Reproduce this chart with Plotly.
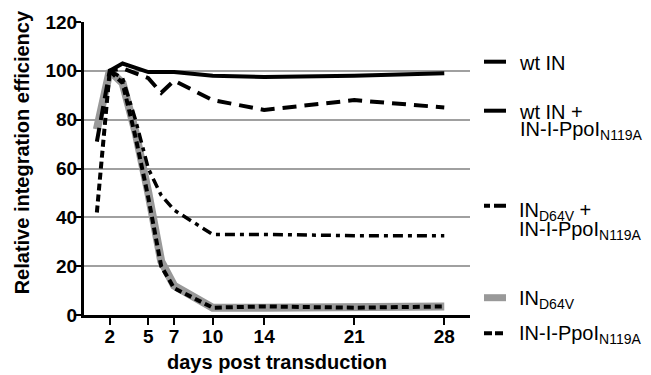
import plotly.graph_objects as go

days_wt = [2, 3, 5, 7, 10, 14, 21, 28]
wt_in = [100, 103, 99.5, 99.5, 98, 97.5, 98, 99]

days_wt_ppoi = [1, 2, 3, 5, 6, 7, 10, 14, 21, 28]
wt_in_ppoi = [71, 100, 101, 97, 91, 96, 88, 84, 88, 85]

days_d64v_ppoi = [2, 3, 4, 5, 6, 7, 10, 14, 21, 28]
d64v_ppoi = [100, 97, 80, 60, 49, 43, 33, 33, 32.5, 32.5]

days_d64v = [1, 2, 3, 4, 5, 6, 7, 10, 14, 21, 28]
d64v = [76, 100, 95, 75, 50, 22, 12, 3, 3, 3, 3.5]

days_ppoi = [1, 2, 3, 4, 5, 6, 7, 10, 14, 21, 28]
ppoi = [42, 100, 95, 73, 48, 20, 11, 3, 3.5, 3, 3.5]

x_ticks = [2, 5, 7, 10, 14, 21, 28]
y_ticks = [0, 20, 40, 60, 80, 100, 120]

FONT = "Liberation Sans, Arial, sans-serif"
W, H = 643, 367  # page body has an 8px margin
L, R, T, B = 76, 181, 14, 60
PW, PH = W - L - R, H - T - B

def px(page_x):
    return (page_x - 8 - L) / PW

def py(page_y):
    return (H - B - (page_y - 8)) / PH

styles = {
    "d64v": dict(color="#999999", width=8),
    "ppoi": dict(color="black", width=4, dash="7px,4px"),
    "d64v_ppoi": dict(color="black", width=3.5, dash="10px,5px,4px,5px"),
    "wt_ppoi": dict(color="black", width=4, dash="14px,8px"),
    "wt": dict(color="black", width=4),
}

fig = go.Figure()
fig.add_trace(go.Scatter(x=days_d64v, y=d64v, mode="lines", name="IN<sub>D64V</sub>",
                         line=styles["d64v"]))
fig.add_trace(go.Scatter(x=days_ppoi, y=ppoi, mode="lines", name="IN-I-PpoI<sub>N119A</sub>",
                         line=styles["ppoi"]))
fig.add_trace(go.Scatter(x=days_d64v_ppoi, y=d64v_ppoi, mode="lines",
                         name="IN<sub>D64V</sub> + IN-I-PpoI<sub>N119A</sub>",
                         line=styles["d64v_ppoi"]))
fig.add_trace(go.Scatter(x=days_wt_ppoi, y=wt_in_ppoi, mode="lines",
                         name="wt IN + IN-I-PpoI<sub>N119A</sub>",
                         line=styles["wt_ppoi"]))
fig.add_trace(go.Scatter(x=days_wt, y=wt_in, mode="lines", name="wt IN",
                         line=styles["wt"]))

LFS = 20
def big(t):
    return '<span style="font-size:%dpx">%s</span>' % (LFS, t)

# legend drawn as swatches + text (reference uses tight line spacing)
legend_items = [
    # (swatch y, swatch style, lines, cap-top y of first line, line pitch)
    (61.7, dict(color="black", width=4), ["wt IN"], 55, None),
    (110.7, dict(color="black", width=4, dash="24px,6px"),
     ["wt IN +", "IN-I-PpoI<sub>N119A</sub>"], 104, 17.2),
    (205.7, dict(color="black", width=4, dash="6px,4px,12px,4px"),
     ["IN<sub>D64V</sub> +", "IN-I-PpoI<sub>N119A</sub>"], 202, 18.6),
    (297.7, dict(color="#999999", width=7), ["IN<sub>D64V</sub>"], 290, None),
    (333.3, dict(color="black", width=4, dash="8px,3px"), ["IN-I-PpoI<sub>N119A</sub>"], 325, None),
]

shapes = []
annotations = []
for sy, sstyle, lines, cap_top, pitch in legend_items:
    shapes.append(dict(type="line", xref="paper", yref="paper",
                       x0=px(484), x1=px(506), y0=py(sy), y1=py(sy), line=sstyle))
    if len(lines) == 1:
        text, size = lines[0], LFS
    else:
        text, size = "<br>".join(big(t) for t in lines), pitch / 1.3
    annotations.append(dict(text=text, xref="paper", yref="paper",
                            x=px(517), y=py(cap_top - 0.189 * LFS - 1),
                            xanchor="left", yanchor="top", align="left", showarrow=False,
                            font=dict(size=size, family=FONT, color="black")))

annotations += [
    dict(text="<b>days post transduction</b>", xref="paper", yref="paper",
         x=0.5, y=-0.162, xanchor="center", yanchor="middle", showarrow=False,
         font=dict(size=20, family=FONT, color="black")),
    dict(text="<b>Relative integration efficiency</b>", xref="paper", yref="paper",
         x=-0.161, y=0.5546, xanchor="center", yanchor="middle", showarrow=False,
         textangle=-90, font=dict(size=20, family=FONT, color="black")),
]

fig.update_layout(
    width=W, height=H,
    margin=dict(l=L, r=R, t=T, b=B, autoexpand=False),
    plot_bgcolor="white", paper_bgcolor="white",
    showlegend=False,
    font=dict(family=FONT, color="black"),
    shapes=shapes,
    annotations=annotations,
)

fig.update_xaxes(range=[0, 30], tickvals=x_ticks, ticktext=[str(v) for v in x_ticks],
                 automargin=False,
                 showgrid=False, zeroline=False, showline=True, linecolor="black", linewidth=3,
                 ticks="outside", ticklen=7, tickwidth=2, tickcolor="black",
                 ticklabelstandoff=-5,
                 tickfont=dict(size=19, family=FONT, weight="bold"))
fig.update_yaxes(range=[0, 120], tickvals=y_ticks, automargin=False,
                 showgrid=True, gridcolor="#a0a0a0", gridwidth=1.5, zeroline=False,
                 showline=True, linecolor="black", linewidth=3,
                 ticks="outside", ticklen=6, tickwidth=2, tickcolor="black",
                 ticklabelstandoff=-6,
                 tickfont=dict(size=19, family=FONT, weight="bold"))

fig.write_html("out.html")
